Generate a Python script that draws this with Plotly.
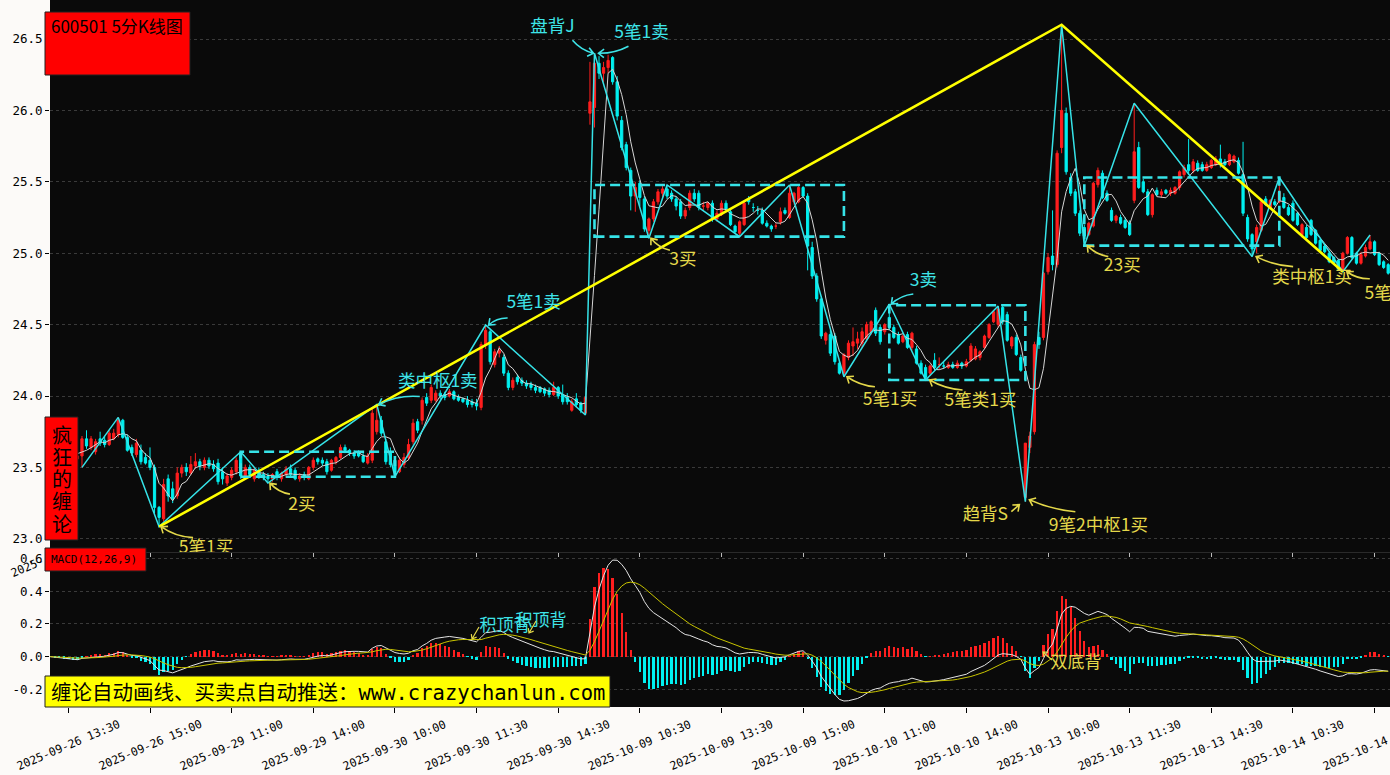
import math
import numpy as np
import pandas as pd
import plotly.graph_objects as go

# ---------------- data ----------------
chart_title = "600501 5分K线图"
side_title = ["疯", "狂", "的", "缠", "论"]
macd_title = "MACD(12,26,9)"
footer_cn = "缠论自动画线、买卖点自动推送："
footer_url = "www.crazychanlun.com"

tick_idx = [4, 22, 40, 58, 76, 94, 112, 130, 148, 166, 184, 202, 220, 238, 256, 274, 292]
tick_labels = ["2025-09-26 13:30", "2025-09-26 15:00", "2025-09-29 11:00", "2025-09-29 14:00",
               "2025-09-30 10:00", "2025-09-30 11:30", "2025-09-30 14:30", "2025-10-09 10:30",
               "2025-10-09 13:30", "2025-10-09 15:00", "2025-10-10 11:00", "2025-10-10 14:00",
               "2025-10-13 10:00", "2025-10-13 11:30", "2025-10-13 14:30", "2025-10-14 10:30",
               "2025-10-14 13:30"]
price_ticks = [23.0, 23.5, 24.0, 24.5, 25.0, 25.5, 26.0, 26.5]
macd_ticks = [-0.2, 0.0, 0.2, 0.4, 0.6]

opens = [
    23.68, 23.66, 23.62, 23.64, 23.59, 23.61, 23.56, 23.58, 23.70, 23.64,
    23.61, 23.70, 23.69, 23.66, 23.70, 23.73, 23.83, 23.71, 23.64, 23.59,
    23.62, 23.57, 23.55, 23.50, 23.22, 23.14, 23.42, 23.35, 23.30, 23.46,
    23.50, 23.46, 23.51, 23.54, 23.50, 23.55, 23.52, 23.53, 23.47, 23.39,
    23.43, 23.47, 23.60, 23.44, 23.50, 23.42, 23.48, 23.45, 23.44, 23.42,
    23.47, 23.42, 23.45, 23.49, 23.48, 23.42, 23.45, 23.42, 23.50, 23.56,
    23.55, 23.54, 23.48, 23.54, 23.57, 23.64, 23.62, 23.60, 23.60, 23.58,
    23.53, 23.55, 23.75, 23.83, 23.68, 23.60, 23.55, 23.47, 23.52, 23.57,
    23.68, 23.82, 23.83, 23.99, 23.97, 23.97, 24.02, 24.01, 24.00, 24.03,
    23.99, 23.98, 23.97, 23.96, 23.95, 23.92, 24.36, 24.45, 24.22, 24.30,
    24.27, 24.16, 24.06, 24.13, 24.11, 24.09, 24.08, 24.06, 24.06, 24.05,
    24.04, 24.01, 24.06, 24.01, 23.99, 23.90, 23.98, 23.95, 23.88, 25.98,
    26.02, 26.33, 26.26, 26.30, 26.37, 26.20, 25.93, 25.76, 25.58, 25.40,
    25.49, 25.38, 25.16, 25.24, 25.36, 25.42, 25.45, 25.42, 25.38, 25.36,
    25.26, 25.32, 25.42, 25.42, 25.33, 25.32, 25.35, 25.24, 25.27, 25.35,
    25.29, 25.19, 25.14, 25.20, 25.38, 25.32, 25.30, 25.30, 25.21, 25.19,
    25.19, 25.22, 25.30, 25.25, 25.36, 25.36, 25.46, 25.40, 25.04, 24.84,
    24.68, 24.39, 24.43, 24.42, 24.23, 24.16, 24.27, 24.35, 24.37, 24.37,
    24.40, 24.45, 24.60, 24.48, 24.45, 24.55, 24.48, 24.43, 24.38, 24.43,
    24.34, 24.33, 24.23, 24.20, 24.16, 24.25, 24.22, 24.21, 24.20, 24.22,
    24.20, 24.23, 24.21, 24.25, 24.26, 24.27, 24.34, 24.41, 24.52, 24.50,
    24.62, 24.57, 24.35, 24.41, 24.27, 23.29, 23.64, 23.75, 24.41, 24.41,
    24.87, 24.98, 24.92, 25.74, 25.98, 25.53, 25.43, 25.28, 25.18, 25.13,
    25.19, 25.48, 25.56, 25.42, 25.30, 25.23, 25.25, 25.23, 25.21, 25.37,
    25.74, 25.50, 25.43, 25.27, 25.44, 25.41, 25.44, 25.42, 25.42, 25.46,
    25.55, 25.62, 25.58, 25.63, 25.62, 25.58, 25.60, 25.62, 25.66, 25.64,
    25.62, 25.64, 25.65, 25.55, 25.25, 25.13, 25.08, 25.16, 25.38, 25.32,
    25.36, 25.36, 25.39, 25.32, 25.35, 25.28, 25.13, 25.18, 25.23, 25.16,
    25.09, 25.05, 25.00, 24.97, 24.95, 24.88, 25.00, 25.11, 25.00, 24.93,
    24.98, 25.03, 25.08, 25.00, 24.94, 24.92]

highs = [
    23.72, 23.69, 23.66, 23.67, 23.63, 23.64, 23.60, 23.72, 23.76, 23.72,
    23.70, 23.75, 23.72, 23.76, 23.77, 23.85, 23.84, 23.73, 23.66, 23.70,
    23.66, 23.60, 23.64, 23.52, 23.23, 23.42, 23.45, 23.40, 23.50, 23.52,
    23.53, 23.58, 23.60, 23.56, 23.57, 23.57, 23.55, 23.56, 23.50, 23.46,
    23.50, 23.57, 23.61, 23.52, 23.52, 23.50, 23.50, 23.47, 23.46, 23.46,
    23.49, 23.47, 23.51, 23.52, 23.50, 23.46, 23.47, 23.51, 23.57, 23.57,
    23.57, 23.56, 23.56, 23.58, 23.66, 23.66, 23.63, 23.62, 23.62, 23.60,
    23.60, 23.92, 23.94, 23.86, 23.70, 23.64, 23.56, 23.57, 23.60, 23.70,
    23.84, 23.84, 23.99, 24.02, 24.08, 24.04, 24.04, 24.03, 24.05, 24.04,
    24.01, 23.99, 24.00, 23.98, 23.98, 24.38, 24.497, 24.47, 24.33, 24.35,
    24.29, 24.18, 24.13, 24.15, 24.13, 24.11, 24.10, 24.08, 24.07, 24.06,
    24.06, 24.10, 24.07, 24.08, 24.02, 23.98, 24.02, 23.96, 24.00, 26.34,
    26.40, 26.38, 26.34, 26.39, 26.38, 26.24, 25.96, 25.78, 25.60, 25.50,
    25.51, 25.40, 25.25, 25.38, 25.45, 25.47, 25.478, 25.44, 25.40, 25.38,
    25.32, 25.44, 25.45, 25.44, 25.36, 25.36, 25.37, 25.30, 25.37, 25.37,
    25.31, 25.20, 25.23, 25.37, 25.40, 25.35, 25.33, 25.32, 25.23, 25.20,
    25.21, 25.32, 25.32, 25.478, 25.43, 25.47, 25.47, 25.42, 25.08, 24.86,
    24.70, 24.45, 24.46, 24.44, 24.25, 24.30, 24.39, 24.48, 24.45, 24.48,
    24.52, 24.53, 24.62, 24.50, 24.51, 24.644, 24.50, 24.45, 24.43, 24.45,
    24.45, 24.35, 24.25, 24.22, 24.22, 24.30, 24.27, 24.24, 24.24, 24.24,
    24.25, 24.24, 24.26, 24.37, 24.35, 24.32, 24.43, 24.51, 24.60, 24.63,
    24.63, 24.59, 24.42, 24.43, 24.29, 23.67, 23.75, 24.38, 24.45, 24.87,
    25.00, 25.30, 25.72, 26.60, 26.02, 25.56, 25.45, 25.30, 25.20, 25.22,
    25.50, 25.60, 25.58, 25.44, 25.32, 25.27, 25.27, 25.25, 25.23, 26.05,
    25.78, 25.52, 25.45, 25.42, 25.46, 25.45, 25.45, 25.46, 25.47, 25.58,
    25.62, 25.80, 25.66, 25.65, 25.64, 25.64, 25.66, 25.68, 25.76, 25.66,
    25.70, 25.69, 25.67, 25.78, 25.27, 25.14, 25.20, 25.37, 25.40, 25.38,
    25.38, 25.53, 25.42, 25.34, 25.37, 25.29, 25.21, 25.20, 25.24, 25.17,
    25.10, 25.06, 25.01, 24.98, 24.96, 25.01, 25.12, 25.12, 25.01, 25.01,
    25.06, 25.127, 25.09, 25.01, 24.95, 24.93]

lows = [
    23.63, 23.60, 23.58, 23.57, 23.55, 23.54, 23.52, 23.50, 23.63, 23.62,
    23.59, 23.65, 23.64, 23.65, 23.69, 23.71, 23.70, 23.61, 23.58, 23.57,
    23.52, 23.52, 23.48, 23.18, 23.085, 23.12, 23.26, 23.25, 23.28, 23.43,
    23.44, 23.45, 23.49, 23.48, 23.48, 23.49, 23.47, 23.38, 23.38, 23.37,
    23.41, 23.45, 23.42, 23.42, 23.43, 23.40, 23.42, 23.41, 23.39, 23.40,
    23.41, 23.40, 23.43, 23.43, 23.41, 23.40, 23.41, 23.41, 23.48, 23.52,
    23.51, 23.45, 23.47, 23.52, 23.56, 23.60, 23.58, 23.56, 23.57, 23.53,
    23.52, 23.53, 23.73, 23.72, 23.52, 23.50, 23.435, 23.46, 23.50, 23.55,
    23.66, 23.74, 23.80, 23.93, 23.95, 23.96, 23.98, 23.97, 23.99, 23.97,
    23.96, 23.95, 23.92, 23.92, 23.90, 23.90, 24.33, 24.22, 24.20, 24.27,
    24.14, 24.04, 24.04, 24.08, 24.07, 24.05, 24.04, 24.02, 24.02, 24.00,
    23.99, 24.00, 23.98, 23.94, 23.94, 23.89, 23.92, 23.88, 23.867, 25.90,
    25.88, 26.22, 26.20, 26.26, 26.18, 25.93, 25.72, 25.58, 25.30, 25.29,
    25.33, 25.15, 25.105, 25.22, 25.34, 25.38, 25.38, 25.36, 25.30, 25.24,
    25.24, 25.30, 25.36, 25.30, 25.30, 25.30, 25.22, 25.22, 25.26, 25.30,
    25.19, 25.14, 25.116, 25.19, 25.34, 25.29, 25.27, 25.20, 25.18, 25.15,
    25.17, 25.20, 25.27, 25.24, 25.34, 25.35, 25.39, 24.88, 24.82, 24.66,
    24.40, 24.36, 24.28, 24.22, 24.15, 24.135, 24.25, 24.28, 24.33, 24.34,
    24.38, 24.43, 24.42, 24.36, 24.43, 24.46, 24.40, 24.36, 24.37, 24.33,
    24.32, 24.22, 24.15, 24.112, 24.14, 24.18, 24.19, 24.19, 24.19, 24.19,
    24.19, 24.19, 24.20, 24.24, 24.25, 24.25, 24.33, 24.40, 24.51, 24.48,
    24.50, 24.38, 24.33, 24.28, 24.17, 23.26, 23.60, 23.73, 24.33, 24.39,
    24.85, 24.88, 24.90, 25.70, 25.55, 25.40, 25.26, 25.12, 25.053, 25.12,
    25.18, 25.46, 25.38, 25.36, 25.22, 25.21, 25.20, 25.17, 25.12, 25.35,
    25.45, 25.42, 25.26, 25.25, 25.40, 25.39, 25.41, 25.40, 25.41, 25.44,
    25.53, 25.55, 25.56, 25.57, 25.57, 25.57, 25.59, 25.61, 25.60, 25.61,
    25.61, 25.63, 25.55, 25.26, 25.08, 24.976, 25.00, 25.15, 25.33, 25.31,
    25.33, 25.35, 25.31, 25.26, 25.22, 25.19, 25.11, 25.10, 25.12, 25.06,
    25.01, 25.00, 24.93, 24.92, 24.88, 24.87, 24.99, 24.96, 24.92, 24.92,
    24.97, 25.02, 24.98, 24.91, 24.89, 24.85]

closes = [
    23.66, 23.62, 23.64, 23.59, 23.61, 23.56, 23.58, 23.70, 23.65, 23.70,
    23.68, 23.67, 23.66, 23.74, 23.74, 23.83, 23.71, 23.62, 23.60, 23.67,
    23.54, 23.53, 23.50, 23.22, 23.15, 23.38, 23.30, 23.28, 23.46, 23.50,
    23.47, 23.52, 23.54, 23.51, 23.55, 23.51, 23.49, 23.40, 23.42, 23.44,
    23.48, 23.55, 23.44, 23.50, 23.45, 23.48, 23.44, 23.43, 23.42, 23.45,
    23.43, 23.46, 23.49, 23.45, 23.42, 23.44, 23.43, 23.50, 23.55, 23.54,
    23.53, 23.47, 23.55, 23.57, 23.64, 23.62, 23.60, 23.58, 23.58, 23.54,
    23.58, 23.88, 23.83, 23.74, 23.54, 23.52, 23.47, 23.55, 23.57, 23.66,
    23.81, 23.76, 23.97, 23.95, 24.06, 24.02, 24.00, 23.99, 24.03, 23.98,
    23.97, 23.96, 23.94, 23.94, 23.93, 24.36, 24.46, 24.24, 24.31, 24.32,
    24.16, 24.06, 24.11, 24.10, 24.09, 24.07, 24.06, 24.04, 24.03, 24.02,
    24.01, 24.06, 24.00, 23.96, 23.96, 23.96, 23.94, 23.90, 23.99, 26.06,
    26.33, 26.26, 26.30, 26.35, 26.20, 25.96, 25.74, 25.60, 25.40, 25.46,
    25.39, 25.17, 25.24, 25.36, 25.43, 25.45, 25.40, 25.38, 25.33, 25.26,
    25.30, 25.42, 25.38, 25.32, 25.33, 25.35, 25.24, 25.28, 25.35, 25.31,
    25.20, 25.15, 25.22, 25.35, 25.36, 25.32, 25.30, 25.21, 25.19, 25.17,
    25.19, 25.29, 25.28, 25.42, 25.42, 25.46, 25.40, 25.05, 24.84, 24.68,
    24.42, 24.44, 24.30, 24.24, 24.16, 24.29, 24.37, 24.38, 24.40, 24.45,
    24.50, 24.52, 24.44, 24.38, 24.50, 24.48, 24.41, 24.37, 24.42, 24.34,
    24.44, 24.23, 24.16, 24.13, 24.21, 24.20, 24.22, 24.21, 24.22, 24.20,
    24.23, 24.21, 24.24, 24.35, 24.33, 24.31, 24.42, 24.50, 24.59, 24.61,
    24.52, 24.39, 24.41, 24.29, 24.18, 23.67, 23.72, 24.36, 24.36, 24.86,
    24.97, 24.92, 25.70, 26.00, 25.57, 25.42, 25.28, 25.14, 25.12, 25.21,
    25.49, 25.58, 25.39, 25.37, 25.23, 25.26, 25.21, 25.18, 25.13, 25.71,
    25.46, 25.43, 25.27, 25.41, 25.41, 25.43, 25.42, 25.44, 25.46, 25.57,
    25.60, 25.58, 25.64, 25.58, 25.58, 25.62, 25.65, 25.66, 25.62, 25.62,
    25.69, 25.68, 25.56, 25.28, 25.10, 25.03, 25.18, 25.36, 25.34, 25.37,
    25.34, 25.43, 25.32, 25.27, 25.23, 25.20, 25.20, 25.11, 25.13, 25.07,
    25.02, 25.01, 24.94, 24.93, 24.89, 25.00, 25.11, 24.97, 24.93, 24.99,
    25.04, 25.08, 24.99, 24.92, 24.90, 24.86]

# 笔 (strokes): vertex bar index and price
bi_idx = [7, 15, 24, 42, 48, 72, 76, 96, 118, 120, 132, 136, 152, 163, 175, 185, 193, 209,
          215, 223, 228, 239, 265, 271, 285, 291]
bi_px = [23.50, 23.85, 23.085, 23.61, 23.39, 23.94, 23.435, 24.497, 23.867, 26.40, 25.105,
         25.478, 25.116, 25.478, 24.135, 24.644, 24.112, 24.63, 23.26, 26.60, 25.053, 26.05,
         24.976, 25.53, 24.87, 25.127]
# 线段 (segments)
seg_idx = [24, 223, 285]
seg_px = [23.085, 26.60, 24.87]
# 中枢 (pivot boxes): start bar, end bar, low, high
zs_start = [42, 120, 185, 228]
zs_end = [76, 175, 215, 271]
zs_low = [23.435, 25.116, 24.112, 25.053]
zs_high = [23.61, 25.478, 24.635, 25.53]

# buy / sell point labels: bi vertex number, text, kind
pt_vertex = [2, 4, 5, 7, 9, 9, 10, 15, 14, 16, 18, 18, 20, 22, 24]
pt_text = ["5笔1买", "2买", "类中枢1卖", "5笔1卖", "盘背J", "5笔1卖", "3买", "3卖", "5笔1买",
           "5笔类1买", "趋背S", "9笔2中枢1买", "23买", "类中枢1买", "5笔1买"]
pt_kind = ["buy", "buy", "sell", "sell", "sell", "sell", "buy", "sell", "buy", "buy", "buy",
           "buy", "buy", "buy", "buy"]

# ---------------- indicators ----------------
n = len(closes)
idx = np.arange(n)
cs = pd.Series(closes, dtype=float)
ma5 = cs.rolling(5, min_periods=1).mean()
dif = cs.ewm(span=12, adjust=False).mean() - cs.ewm(span=26, adjust=False).mean()
dea = dif.ewm(span=9, adjust=False).mean()
hist = 2 * (dif - dea)

# ---------------- geometry ----------------
W, H = 1390, 775
ML, MB = 50, 68
PW, PH = W - ML, H - MB
SPLIT = 552.0                       # pixel row where price panel ends
X0, X1 = -0.05, 295.4
Y0, Y1 = 22.9076, 26.7731
M0, M1 = -0.3077, 0.64
DOM = (PH - SPLIT) / PH

RED = "#FF1E1E"
CYAN = "#00F0F0"
BI_C = "#36E3E8"
YEL_T = "#E4D84A"
CYA_T = "#3EE4E8"
MONO = "DejaVu Sans Mono"
CJK = "Noto Sans CJK SC"


def xb(b):
    return ML + (b - X0) * PW / (X1 - X0)


def bx(px):
    return X0 + (px - ML) * (X1 - X0) / PW


def yp(p):
    return (Y1 - p) * SPLIT / (Y1 - Y0)


def py(yy):
    return Y1 - yy * (Y1 - Y0) / SPLIT


def my(yy):
    return M1 - (yy - SPLIT) * (M1 - M0) / (PH - SPLIT)


def paper_x(px):
    return (px - ML) / PW


def paper_y(yy):
    return (PH - yy) / PH


def arrow_shape(tx, ty, sx, sy, bend, color, inv_y, yref, head=7.0, width=1.6):
    mx, mY = (tx + sx) / 2, (ty + sy) / 2
    dx, dy = tx - sx, ty - sy
    L = math.hypot(dx, dy) or 1.0
    nx, ny = -dy / L, dx / L
    cx, cy = mx + nx * bend, mY + ny * bend
    ux, uy = tx - cx, ty - cy
    l2 = math.hypot(ux, uy) or 1.0
    ux, uy = ux / l2, uy / l2
    pts = []
    for a in (math.radians(38), -math.radians(38)):
        rx = ux * math.cos(a) - uy * math.sin(a)
        ry = ux * math.sin(a) + uy * math.cos(a)
        pts.append((tx - head * rx, ty - head * ry))

    def d(p):
        return f"{bx(p[0]):.4f},{inv_y(p[1]):.5f}"
    path = (f"M {d((sx, sy))} Q {d((cx, cy))} {d((tx, ty))} "
            f"M {d(pts[0])} L {d((tx, ty))} L {d(pts[1])}")
    return dict(type="path", path=path, xref="x" if yref == "y" else "x2", yref=yref,
                line=dict(color=color, width=width), layer="above")


fig = go.Figure()

# ---------------- price panel ----------------
fig.add_trace(go.Candlestick(
    x=idx, open=opens, high=highs, low=lows, close=closes,
    increasing=dict(line=dict(color=RED, width=1), fillcolor=RED),
    decreasing=dict(line=dict(color=CYAN, width=1), fillcolor=CYAN),
    whiskerwidth=0, xaxis="x", yaxis="y", showlegend=False, hoverinfo="skip"))
fig.add_trace(go.Scatter(x=idx, y=ma5, mode="lines", line=dict(color="#D6D6D6", width=1),
                         xaxis="x", yaxis="y", showlegend=False, hoverinfo="skip"))
fig.add_trace(go.Scatter(x=bi_idx, y=bi_px, mode="lines", line=dict(color=BI_C, width=1.5),
                         xaxis="x", yaxis="y", showlegend=False, hoverinfo="skip"))
fig.add_trace(go.Scatter(x=seg_idx, y=seg_px, mode="lines", line=dict(color="#FFFF00", width=2.6),
                         xaxis="x", yaxis="y", showlegend=False, hoverinfo="skip"))

shapes = []
for a, b, lo, hi in zip(zs_start, zs_end, zs_low, zs_high):
    shapes.append(dict(type="rect", xref="x", yref="y", x0=a, x1=b, y0=lo, y1=hi,
                       line=dict(color=BI_C, width=2.6, dash="10px,5px"), layer="above"))

# label placement (pixel offsets from the stroke vertex): text centre, arrow tail, tip nudge, bend
txt_off = [(47, 22), (34, 23), (61, -22), (48, -21), (-42, -26), (47, -20), (34, 22), (34, -22),
           (46, 24), (55, 22), (-40, 14), (73, 25), (38, 21), (60, 22), (49, 23)]
tail_off = [(34, 11), (22, 11), (43, -8), (22, -7), (-22, -13), (34, -7), (21, 12), (24, -10),
            (31, 10), (37, 10), (-14, 10), (50, 10), (24, 11), (41, 10), (27, 7)]
tip_nudge = [(2, 0), (2, 0), (2, 0), (3, 0), (-1, 0), (4, 0), (2, 0), (2, 0), (3, 0), (4, 0),
             (-6, 3), (4, -2), (3, 0), (4, 0), (4, 0)]
bend = [-5, -4, 6, 4, 4, -4, -4, 4, -4, -4, 0, -4, -4, -4, -4]

lab = {"buy": dict(x=[], y=[], t=[]), "sell": dict(x=[], y=[], t=[])}
for k in range(len(pt_text)):
    v = pt_vertex[k]
    vx, vy = xb(bi_idx[v]), yp(bi_px[v])
    tx, ty = vx + tip_nudge[k][0], vy + tip_nudge[k][1]
    sx, sy = vx + tail_off[k][0], vy + tail_off[k][1]
    col = YEL_T if pt_kind[k] == "buy" else CYA_T
    shapes.append(arrow_shape(tx, ty, sx, sy, bend[k], col, py, "y"))
    lab[pt_kind[k]]["x"].append(bx(vx + txt_off[k][0]))
    lab[pt_kind[k]]["y"].append(py(vy + txt_off[k][1]))
    lab[pt_kind[k]]["t"].append(pt_text[k])

for kind, col in (("buy", YEL_T), ("sell", CYA_T)):
    fig.add_trace(go.Scatter(x=lab[kind]["x"], y=lab[kind]["y"], text=lab[kind]["t"], mode="text",
                             textfont=dict(family=CJK, size=17.5, color=col), cliponaxis=True,
                             xaxis="x", yaxis="y", showlegend=False, hoverinfo="skip"))

# ---------------- MACD panel ----------------
fig.add_trace(go.Bar(x=idx, y=hist, width=0.5,
                     marker=dict(color=[RED if h >= 0 else CYAN for h in hist], line=dict(width=0)),
                     xaxis="x2", yaxis="y2", showlegend=False, hoverinfo="skip"))
fig.add_trace(go.Scatter(x=idx, y=dif, mode="lines", line=dict(color="#E4E4E4", width=1),
                         xaxis="x2", yaxis="y2", showlegend=False, hoverinfo="skip"))
fig.add_trace(go.Scatter(x=idx, y=dea, mode="lines", line=dict(color="#C8C400", width=1),
                         xaxis="x2", yaxis="y2", showlegend=False, hoverinfo="skip"))

# MACD divergence labels (pixel positions in the lower panel)
macd_lab_text = ["积顶背", "积顶背", "双底背"]
macd_lab_pos = [(505, 627), (541, 622), (1076, 664)]
macd_lab_col = [CYA_T, CYA_T, YEL_T]
macd_arrows = [((472, 639), (479, 627)), ((529, 633), (536, 621)), ((1043, 652), (1052, 660))]
for (tp, tl) in macd_arrows:
    shapes.append(arrow_shape(tp[0], tp[1], tl[0], tl[1], 0, "#E4D84A", my, "y2", head=5, width=1.2))
fig.add_trace(go.Scatter(x=[bx(p[0]) for p in macd_lab_pos], y=[my(p[1]) for p in macd_lab_pos],
                         text=macd_lab_text, mode="text",
                         textfont=dict(family=CJK, size=17, color=macd_lab_col), cliponaxis=True,
                         xaxis="x2", yaxis="y2", showlegend=False, hoverinfo="skip"))

# ---------------- decoration boxes ----------------
def pbox(x0, y0, x1, y1, fill):
    return dict(type="rect", xref="paper", yref="paper", x0=paper_x(x0), x1=paper_x(x1),
                y0=paper_y(y1), y1=paper_y(y0), fillcolor=fill,
                line=dict(color="#202020", width=1), layer="above")


shapes.append(pbox(45, 12, 190, 75, "#FF0000"))
shapes.append(pbox(45, 417, 78, 540, "#FF0000"))
shapes.append(pbox(45, 548, 146, 571, "#FF0000"))
shapes.append(pbox(45, 676, 610, 707, "#FFFF00"))

ann = []
ann.append(dict(x=paper_x(49), y=paper_y(25), xref="paper", yref="paper",
                text=chart_title.replace(" ", "&nbsp;"),
                showarrow=False, xanchor="left", yanchor="middle",
                font=dict(family=CJK, size=17, color="#000000")))
for k, ch in enumerate(side_title):
    ann.append(dict(x=paper_x(62), y=paper_y(434 + 22.3 * k), xref="paper", yref="paper", text=ch,
                    showarrow=False, xanchor="center", yanchor="middle",
                    font=dict(family=CJK, size=20, color="#000000")))
ann.append(dict(x=paper_x(49), y=paper_y(559), xref="paper", yref="paper", text=macd_title,
                showarrow=False, xanchor="left", yanchor="middle",
                font=dict(family=MONO, size=11, color="#000000")))
ann.append(dict(x=paper_x(49), y=paper_y(691), xref="paper", yref="paper",
                text=footer_cn + f"<span style='font-family:{MONO}'>" + footer_url + "</span>",
                showarrow=False, xanchor="left", yanchor="middle",
                font=dict(family=CJK, size=20.5, color="#000000")))
# x tick labels (rotated, centred on the ticks)
for b, t in zip(tick_idx, tick_labels):
    ann.append(dict(x=b, xref="x2", y=paper_y(745), yref="paper", text=t, showarrow=False,
                    textangle=-23, xanchor="center", yanchor="middle",
                    font=dict(family=MONO, size=11.5, color="#000000")))
# stray piece of the hidden upper-axis label in the left margin
ann.append(dict(x=paper_x(27), y=paper_y(567), xref="paper", yref="paper", text="2025-",
                showarrow=False, textangle=-23, xanchor="center", yanchor="middle",
                font=dict(family=MONO, size=11.5, color="#000000")))

axis_font = dict(family=MONO, size=12.5, color="#000000")
fig.update_layout(
    width=W, height=H, margin=dict(l=ML, r=0, t=0, b=MB),
    paper_bgcolor="#FCFAF8", plot_bgcolor="#0A0A0A", showlegend=False,
    bargap=0, shapes=shapes, annotations=ann,
    xaxis=dict(domain=[0, 1], range=[X0, X1], anchor="y", showgrid=False, zeroline=False,
               tickvals=tick_idx, ticks="outside", ticklen=4, tickcolor="#BBBBBB",
               showticklabels=False, rangeslider=dict(visible=False), showline=True,
               linecolor="#2A2A2A", linewidth=1),
    yaxis=dict(domain=[DOM, 1], range=[Y0, Y1], anchor="x", tickvals=price_ticks,
               ticktext=[f"{v:.1f}" for v in price_ticks], ticks="outside", ticklen=4,
               tickcolor="#000000", tickfont=axis_font, showgrid=True, gridcolor="#3A3A3A",
               griddash="dot", gridwidth=1, zeroline=False),
    xaxis2=dict(domain=[0, 1], range=[X0, X1], anchor="y2", showgrid=False, zeroline=False,
                tickvals=tick_idx, ticks="outside", ticklen=5, tickcolor="#000000",
                showticklabels=False),
    yaxis2=dict(domain=[0, DOM], range=[M0, M1], anchor="x2", tickvals=macd_ticks,
                ticktext=[f"{v:.1f}" for v in macd_ticks], ticks="outside", ticklen=4,
                tickcolor="#000000", tickfont=axis_font, showgrid=True, gridcolor="#3A3A3A",
                griddash="dot", gridwidth=1, zeroline=False),
)

fig.write_html("out.html", config={"displayModeBar": False},
               post_script="document.body.style.margin='0px';document.body.style.overflow='hidden';")
